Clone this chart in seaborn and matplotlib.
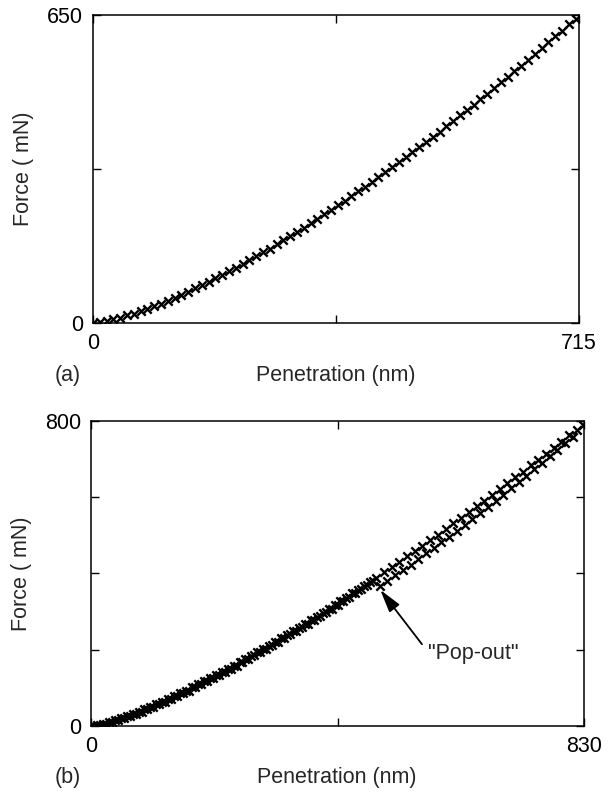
import numpy as np
import pandas as pd
import matplotlib
matplotlib.use("Agg")
import matplotlib.pyplot as plt
import seaborn as sns

sns.set_theme(style="white")
plt.rcParams["font.family"] = ["Liberation Sans", "DejaVu Sans"]

# %% data
# (a) single loading curve
pen_a = [0, 10, 20, 30, 40, 50, 60, 70, 80, 90, 100, 110, 120, 130, 140, 150,
         160, 170, 180, 190, 200, 210, 220, 230, 240, 250, 260, 270, 280, 290,
         300, 310, 320, 330, 340, 350, 360, 370, 380, 390, 400, 410, 420, 430,
         440, 450, 460, 470, 480, 490, 500, 510, 520, 530, 540, 550, 560, 570,
         580, 590, 600, 610, 620, 630, 640, 650, 660, 670, 680, 690, 700, 710]
force_a = [0, 2, 4, 8, 11, 16, 20, 25, 30, 36, 41, 47, 53, 60, 66, 73,
           80, 87, 94, 101, 109, 117, 125, 133, 141, 149, 157, 166, 175, 183,
           192, 201, 210, 220, 229, 239, 248, 258, 268, 278, 288, 298, 308, 318,
           329, 339, 350, 361, 371, 382, 393, 404, 415, 427, 438, 449, 461, 472,
           484, 496, 508, 519, 531, 543, 555, 568, 580, 592, 605, 617, 630, 642]

# (b) first track (upper branch after the pop-out)
pen_b1 = [0, 10, 20, 30, 40, 50, 60, 70, 80, 90, 100, 110, 120, 130, 140, 150,
          160, 170, 180, 190, 200, 210, 220, 230, 240, 250, 260, 270, 280, 290,
          300, 310, 320, 330, 340, 350, 360, 370, 380, 390, 400, 410, 420, 430,
          440, 450, 460, 470, 480, 493, 506, 519, 532, 545, 558, 571, 584, 597,
          610, 623, 636, 649, 662, 675, 688, 701, 714, 727, 740, 753, 766, 779,
          792, 805, 818, 828]
force_b1 = [0, 3, 6, 11, 15, 21, 26, 32, 38, 44, 51, 57, 64, 71, 79, 86,
            93, 101, 109, 117, 125, 133, 141, 150, 158, 167, 176, 184, 193, 202,
            211, 221, 230, 239, 249, 258, 268, 277, 287, 297, 307, 317, 327, 337,
            348, 358, 368, 379, 389, 403, 417, 431, 445, 459, 473, 488, 502, 517,
            532, 546, 561, 576, 591, 606, 621, 637, 652, 667, 684, 699, 714, 730,
            746, 762, 777, 790]

# (b) second track (lower branch after the pop-out)
pen_b2 = [5, 15, 25, 35, 45, 55, 65, 75, 85, 95, 105, 115, 125, 135, 145, 155,
          165, 175, 185, 195, 205, 215, 225, 235, 245, 255, 265, 275, 285, 295,
          305, 315, 325, 335, 345, 355, 365, 375, 385, 395, 405, 415, 425, 435,
          445, 455, 465, 475, 486, 499, 512, 525, 538, 551, 564, 577, 590, 603,
          616, 629, 642, 655, 668, 681, 694, 707, 720, 733, 746, 759, 772, 785,
          798, 811]
force_b2 = [0, 2, 6, 10, 15, 20, 26, 31, 37, 44, 50, 57, 64, 71, 78, 86,
            93, 101, 109, 117, 125, 133, 141, 150, 158, 167, 176, 185, 194, 203,
            212, 221, 231, 240, 249, 259, 268, 278, 288, 298, 308, 318, 328, 338,
            349, 359, 370, 380, 366, 380, 395, 408, 423, 437, 453, 467, 482, 497,
            512, 528, 543, 559, 575, 591, 607, 624, 640, 656, 674, 691, 707, 724,
            741, 759]

df_a = pd.DataFrame({"pen": pen_a, "force": force_a})
df_b = pd.concat([
    pd.DataFrame({"pen": pen_b1, "force": force_b1, "run": "1"}),
    pd.DataFrame({"pen": pen_b2, "force": force_b2, "run": "2"}),
])

FS = 15.5

# %% figure
fig = plt.figure(figsize=(6.10, 7.93), dpi=100)
ax_a = fig.add_axes([0.1525, 0.5927, 0.7967, 0.3884])
ax_b = fig.add_axes([0.1492, 0.0845, 0.8082, 0.3846])

mk = dict(marker="x", s=36, linewidth=1.7, color="black", legend=False)
sns.scatterplot(data=df_a, x="pen", y="force", ax=ax_a, **mk)
sns.scatterplot(data=df_b, x="pen", y="force", ax=ax_b, **mk)


def style_axes(ax, xmax, ymax, yticks, ylab_x):
    ax.set_xlim(0, xmax)
    ax.set_ylim(0, ymax)
    ax.set_xticks([0, xmax / 2, xmax])
    ax.set_xticklabels(["0", "", str(xmax)])
    ax.set_yticks(yticks)
    ax.set_yticklabels(["0"] + [""] * (len(yticks) - 2) + [str(ymax)])
    ax.tick_params(direction="in", length=6, width=1, colors="black",
                   top=True, right=True, bottom=True, left=True,
                   labelsize=FS, pad=7)
    for s in ax.spines.values():
        s.set_color("black")
        s.set_linewidth(1.1)
    ax.set_xlabel("")
    ax.set_ylabel("Force ( mN)", fontsize=FS, va="center")
    ax.yaxis.set_label_coords(ylab_x, 0.5)


style_axes(ax_a, 715, 650, [0, 325, 650], -0.144)
style_axes(ax_b, 830, 800, [0, 200, 400, 600, 800], -0.142)

fig.text(336 / 610, 1 - 375 / 793, "Penetration (nm)", ha="center", va="center", fontsize=FS)
fig.text(68 / 610, 1 - 375 / 793, "(a)", ha="center", va="center", fontsize=FS)
fig.text(337 / 610, 1 - 778 / 793, "Penetration (nm)", ha="center", va="center", fontsize=FS)
fig.text(68 / 610, 1 - 778 / 793, "(b)", ha="center", va="center", fontsize=FS)

ax_b.annotate('"Pop-out"', xy=(487, 357), xytext=(567, 189),
              ha="left", va="center", fontsize=FS,
              arrowprops=dict(arrowstyle="-|>,head_length=0.9,head_width=0.25",
                              color="black", lw=1.3, relpos=(0.0, 0.6),
                              shrinkA=3, shrinkB=0))

fig.savefig("out.png", dpi=100)
